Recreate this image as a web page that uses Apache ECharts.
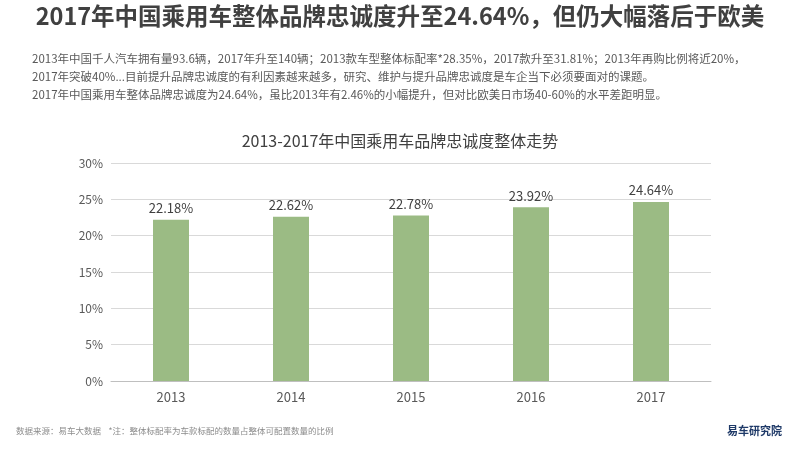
<!DOCTYPE html>
<html><head><meta charset="utf-8">
<script src="https://cdn.jsdelivr.net/npm/echarts@6/dist/echarts.min.js"></script>
<style>html,body{margin:0;padding:0;background:#fff}#c{width:800px;height:450px}</style>
</head><body><div id="c"></div>
<script>
const categories = ['2013','2014','2015','2016','2017'];
const values = [22.18, 22.62, 22.78, 23.92, 24.64];
const F = '"Noto Sans CJK SC","Noto Sans",sans-serif';
const chart = echarts.init(document.getElementById('c'));
chart.setOption({
  animation:false,
  backgroundColor:'#fff',
  title:{text:'2013-2017年中国乘用车品牌忠诚度整体走势',left:'center',top:128,
    textStyle:{fontFamily:F,fontSize:16,fontWeight:'normal',color:'#404040'}},
  grid:{left:111,right:89,top:163,bottom:69},
  xAxis:{type:'category',data:categories,
    axisLine:{lineStyle:{color:'#bfbfbf'}},axisTick:{show:false},
    axisLabel:{fontFamily:F,fontSize:13,color:'#595959',margin:10}},
  yAxis:{type:'value',min:0,max:30,interval:5,
    axisLabel:{formatter:'{value}%',fontFamily:F,fontSize:12,color:'#595959'},
    splitLine:{lineStyle:{color:'#d9d9d9'}}},
  series:[{type:'bar',data:values,barWidth:36,itemStyle:{color:'#9bbb84'},
    label:{show:true,position:'top',formatter:p=>p.value.toFixed(2)+'%',fontFamily:F,fontSize:13,color:'#404040'}}],
  graphic:[
    {type:'text',left:'center',top:4,style:{text:'2017年中国乘用车整体品牌忠诚度升至24.64%，但仍大幅落后于欧美',fontFamily:F,fontSize:23.5,fontWeight:'bold',fill:'#404040'}},
    {type:'text',left:32,top:50,style:{text:'2013年中国千人汽车拥有量93.6辆，2017年升至140辆；2013款车型整体标配率*28.35%，2017款升至31.81%；2013年再购比例将近20%，\n2017年突破40%...目前提升品牌忠诚度的有利因素越来越多，研究、维护与提升品牌忠诚度是车企当下必须要面对的课题。\n2017年中国乘用车整体品牌忠诚度为24.64%，虽比2013年有2.46%的小幅提升，但对比欧美日市场40-60%的水平差距明显。',
      fontFamily:F,fontSize:11.5,lineHeight:18,fill:'#595959'}},
    {type:'text',left:16,top:427,style:{text:'数据来源：易车大数据    *注：整体标配率为车款标配的数量占整体可配置数量的比例',fontFamily:F,fontSize:8.5,fill:'#8c8c8c'}},
    {type:'text',right:18,top:425,style:{text:'易车研究院',fontFamily:F,fontSize:11,fontWeight:'bold',fill:'#1f3a68'}}
  ]
});
</script></body></html>
